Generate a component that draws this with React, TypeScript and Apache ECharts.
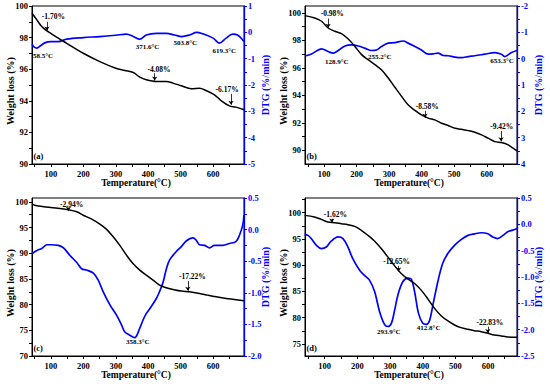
import React, { useEffect, useRef } from "react";
import * as echarts from "echarts";

const FONT = "'Liberation Serif', 'Times New Roman', serif";
const BLUE = "#0000ff";

// ---- shared temperature axis ----
const xTicks = [50, 100, 150, 200, 250, 300, 350, 400, 450, 500, 550, 600, 650];
const xLabels = [100, 200, 300, 400, 500, 600];

// ---- panel (a) ----
const tempA_w = [42, 57, 72, 88, 100, 123, 149, 200, 251, 300, 328, 354, 374, 394, 425, 456, 476, 502, 533, 558, 578, 604, 624, 650, 670, 695];
const weightA = [99.54, 99.12, 98.7, 98.42, 98.27, 97.96, 97.64, 97.01, 96.48, 96.06, 95.92, 95.79, 95.5, 95.33, 95.22, 95.22, 95.12, 94.95, 94.76, 94.8, 94.65, 94.38, 94.02, 93.68, 93.6, 93.43];
const tempA_d = [42, 47, 57, 67, 83, 100, 123, 149, 200, 251, 300, 333, 354, 374, 394, 425, 456, 481, 503, 528, 549, 569, 600, 619, 640, 660, 675, 695];
const dtgA = [-0.45, -0.54, -0.6, -0.52, -0.39, -0.35, -0.35, -0.26, -0.2, -0.16, -0.11, -0.07, -0.16, -0.26, -0.1, -0.04, -0.04, -0.1, -0.16, -0.1, 0.0, -0.06, -0.22, -0.41, -0.22, -0.07, -0.1, -0.35];
const leftLabelsA = [90, 92, 94, 96, 98, 100];
const leftTicksA = [90, 91, 92, 93, 94, 95, 96, 97, 98, 99, 100];
const rightLabelsA = [-5, -4, -3, -2, -1, 0, 1];
const rightTicksA = [-5, -4.5, -4, -3.5, -3, -2.5, -2, -1.5, -1, -0.5, 0, 0.5, 1];
const lossNotesA = [
  { text: "-1.70%", lx: 108, ly: 99.33, ax: 88, top: 99.0, tip: 98.45 },
  { text: "-4.08%", lx: 433, ly: 96.0, ax: 420, top: 95.75, tip: 95.28 },
  { text: "-6.17%", lx: 643, ly: 94.69, ax: 655, top: 94.44, tip: 93.75 },
];
const peakNotesA = [
  { text: "58.5°C", lx: 76, ly: -0.88 },
  { text: "371.6°C", lx: 398, ly: -0.54 },
  { text: "503.8°C", lx: 514, ly: -0.41 },
  { text: "619.3°C", lx: 634, ly: -0.69 },
];

// ---- panel (b) ----
const tempB_w = [41, 71, 92, 112, 133, 153, 174, 194, 215, 235, 256, 276, 297, 317, 338, 358, 379, 399, 420, 440, 461, 481, 502, 522, 543, 563, 584, 604, 625, 645, 666, 681, 693];
const weightB = [99.8, 99.63, 99.39, 98.9, 98.66, 98.49, 98.1, 97.57, 96.96, 96.59, 96.23, 95.86, 95.26, 94.6, 93.92, 93.31, 92.9, 92.58, 92.34, 92.21, 91.97, 91.8, 91.6, 91.53, 91.43, 91.31, 91.12, 90.88, 90.63, 90.56, 90.39, 90.15, 89.95];
const tempB_d = [41, 61, 92, 112, 128, 143, 164, 184, 205, 225, 246, 261, 276, 297, 317, 343, 358, 379, 399, 420, 435, 450, 466, 481, 502, 522, 543, 563, 594, 625, 645, 655, 676, 693];
const dtgB = [-0.1, -0.18, -0.37, -0.27, -0.21, -0.31, -0.48, -0.52, -0.48, -0.4, -0.31, -0.33, -0.46, -0.59, -0.61, -0.67, -0.59, -0.46, -0.33, -0.17, -0.18, -0.21, -0.12, -0.11, -0.06, -0.04, -0.08, -0.11, -0.17, -0.23, -0.17, -0.08, -0.23, -0.31];
const leftLabelsB = [90, 92, 94, 96, 98, 100];
const leftTicksB = [90, 91, 92, 93, 94, 95, 96, 97, 98, 99, 100];
const rightLabelsB = [-2, -1, 0, 1, 2, 3, 4];
const rightTicksB = [-2, -1.5, -1, -0.5, 0, 0.5, 1, 1.5, 2, 2.5, 3, 3.5, 4];
const lossNotesB = [
  { text: "-0.98%", lx: 125, ly: 99.93, ax: 112, top: 99.59, tip: 98.92 },
  { text: "-8.58%", lx: 417, ly: 93.19, ax: 410, top: 92.87, tip: 92.36 },
  { text: "-9.42%", lx: 646, ly: 91.73, ax: 644, top: 91.41, tip: 90.65 },
];
const peakNotesB = [
  { text: "128.9°C", lx: 139, ly: 0.11 },
  { text: "255.2°C", lx: 271, ly: -0.08 },
  { text: "653.3°C", lx: 647, ly: 0.07 },
];

// ---- panel (c) ----
const tempC_w = [42, 57, 100, 149, 180, 200, 226, 251, 271, 292, 312, 333, 353, 374, 394, 415, 435, 456, 476, 502, 527, 558, 583, 609, 640, 665, 695];
const weightC = [99.55, 99.22, 98.9, 98.51, 98.06, 97.4, 96.63, 95.66, 94.69, 93.2, 91.57, 89.63, 88.0, 86.71, 85.74, 84.77, 83.8, 83.28, 82.96, 82.63, 82.5, 82.18, 81.85, 81.53, 81.2, 81.01, 80.75];
const tempC_d = [42, 57, 72, 88, 100, 123, 139, 159, 180, 195, 210, 231, 246, 261, 282, 302, 318, 328, 343, 358, 374, 384, 394, 409, 425, 435, 446, 456, 466, 486, 502, 517, 538, 548, 558, 574, 589, 604, 630, 650, 670, 681, 691, 695];
const dtgC = [-0.38, -0.33, -0.3, -0.24, -0.24, -0.25, -0.29, -0.41, -0.52, -0.62, -0.64, -0.69, -0.8, -0.98, -1.19, -1.35, -1.51, -1.62, -1.67, -1.71, -1.56, -1.43, -1.33, -1.22, -1.09, -0.98, -0.83, -0.62, -0.48, -0.35, -0.27, -0.18, -0.13, -0.17, -0.24, -0.25, -0.29, -0.25, -0.25, -0.22, -0.19, -0.09, 0.07, 0.23];
const leftLabelsC = [70, 75, 80, 85, 90, 95, 100];
const leftTicksC = [70, 72.5, 75, 77.5, 80, 82.5, 85, 87.5, 90, 92.5, 95, 97.5, 100];
const rightLabelsC = [-2.0, -1.5, -1.0, -0.5, 0.0, 0.5];
const rightTicksC = [-2, -1.75, -1.5, -1.25, -1, -0.75, -0.5, -0.25, 0, 0.25, 0.5];
const lossNotesC = [
  { text: "-2.94%", lx: 164, ly: 99.48, ax: 154, top: 98.85, tip: 98.25 },
  { text: "-17.22%", lx: 536, ly: 85.42, ax: 522, top: 84.58, tip: 82.7 },
];
const peakNotesC = [{ text: "358.3°C", lx: 368, ly: -1.78 }];

// ---- panel (d) ----
const tempD_w = [39, 69, 90, 110, 131, 151, 171, 192, 212, 232, 253, 273, 293, 314, 334, 355, 375, 395, 416, 436, 456, 477, 497, 517, 538, 558, 579, 599, 619, 640, 660, 688];
const weightD = [99.49, 99.18, 98.73, 98.23, 98.1, 97.91, 97.72, 97.4, 96.65, 95.7, 94.56, 93.16, 91.58, 89.87, 88.42, 87.34, 86.52, 85.25, 83.54, 81.77, 80.38, 79.37, 78.61, 78.1, 77.78, 77.53, 77.34, 77.03, 76.71, 76.52, 76.33, 76.27];
const tempD_d = [39, 49, 59, 75, 90, 105, 120, 141, 156, 171, 186, 207, 222, 237, 253, 268, 283, 293, 304, 314, 324, 339, 355, 365, 375, 387, 400, 411, 421, 431, 446, 461, 477, 497, 517, 538, 558, 579, 599, 614, 629, 645, 660, 675, 688];
const dtgD = [-0.19, -0.21, -0.27, -0.4, -0.46, -0.43, -0.32, -0.24, -0.27, -0.43, -0.65, -0.87, -0.97, -1.06, -1.28, -1.66, -1.9, -1.94, -1.88, -1.63, -1.34, -1.09, -1.02, -1.04, -1.28, -1.69, -1.88, -1.9, -1.82, -1.53, -1.09, -0.74, -0.55, -0.4, -0.29, -0.21, -0.18, -0.16, -0.18, -0.24, -0.27, -0.21, -0.14, -0.11, -0.08];
const leftLabelsD = [75, 80, 85, 90, 95, 100];
const leftTicksD = [75, 77.5, 80, 82.5, 85, 87.5, 90, 92.5, 95, 97.5, 100, 102.5];
const rightLabelsD = [-2.5, -2.0, -1.5, -1.0, -0.5, 0.0, 0.5];
const rightTicksD = [-2.5, -2.25, -2, -1.75, -1.5, -1.25, -1, -0.75, -0.5, -0.25, 0, 0.25, 0.5];
const lossNotesD = [
  { text: "-1.62%", lx: 133, ly: 99.62, ax: 122, top: 98.86, tip: 98.15 },
  { text: "-12.65%", lx: 320, ly: 90.63, ax: 326, top: 89.87, tip: 88.8 },
  { text: "-22.83%", lx: 605, ly: 79.05, ax: 599, top: 78.29, tip: 77.1 },
];
const peakNotesD = [
  { text: "293.9°C", lx: 296, ly: -2.05 },
  { text: "412.8°C", lx: 418, ly: -1.96 },
];

const zip = (xs: number[], ys: number[]) => xs.map((x, i) => [x, ys[i]]);

const panels = [
  { box: { left: 32, top: 6, width: 212, height: 158 }, xMin: 42, xMax: 695, wMin: 90, wMax: 100, wLabels: leftLabelsA, wTicks: leftTicksA, dMin: -5, dMax: 1, dInv: false, dLabels: rightLabelsA, dTicks: rightTicksA, digits: 0, tw: tempA_w, w: weightA, td: tempA_d, d: dtgA, lossNotes: lossNotesA, peakNotes: peakNotesA, letter: "(a)" },
  { box: { left: 305, top: 6, width: 212, height: 158 }, xMin: 41, xMax: 693, wMin: 89, wMax: 100.5, wLabels: leftLabelsB, wTicks: leftTicksB, dMin: -2, dMax: 4, dInv: true, dLabels: rightLabelsB, dTicks: rightTicksB, digits: 0, tw: tempB_w, w: weightB, td: tempB_d, d: dtgB, lossNotes: lossNotesB, peakNotes: peakNotesB, letter: "(b)" },
  { box: { left: 32, top: 198, width: 212, height: 158 }, xMin: 42, xMax: 695, wMin: 70, wMax: 100.75, wLabels: leftLabelsC, wTicks: leftTicksC, dMin: -2, dMax: 0.5, dInv: false, dLabels: rightLabelsC, dTicks: rightTicksC, digits: 1, tw: tempC_w, w: weightC, td: tempC_d, d: dtgC, lossNotes: lossNotesC, peakNotes: peakNotesC, letter: "(c)" },
  { box: { left: 305, top: 198, width: 212, height: 158 }, xMin: 40, xMax: 688, wMin: 72.7, wMax: 102.8, wLabels: leftLabelsD, wTicks: leftTicksD, dMin: -2.5, dMax: 0.5, dInv: false, dLabels: rightLabelsD, dTicks: rightTicksD, digits: 1, tw: tempD_w, w: weightD, td: tempD_d, d: dtgD, lossNotes: lossNotesD, peakNotes: peakNotesD, letter: "(d)" },
];

const tickFont = { fontFamily: FONT, fontSize: 8.5, fontWeight: "bold" as const };
const lossFont = { fontFamily: FONT, fontSize: 7.5, fontWeight: "bold" as const, color: "#000" };
const peakFont = { fontFamily: FONT, fontSize: 7, fontWeight: "bold" as const, color: "#000" };

function buildOption() {
  const grid = panels.map((p) => ({
    left: p.box.left, top: p.box.top, width: p.box.width, height: p.box.height,
    show: true, borderColor: "#000", borderWidth: 1, backgroundColor: "transparent",
    containLabel: false, outerBoundsMode: "none",
  }));
  const xAxis = panels.map((p, i) => ({
    gridIndex: i, type: "value", min: p.xMin, max: p.xMax,
    axisLine: { show: true, onZero: false, lineStyle: { color: "#000", width: 1 } },
    axisTick: { show: true, length: 3, customValues: xTicks, lineStyle: { color: "#000" } },
    axisLabel: { customValues: xLabels, color: "#000", margin: 5, ...tickFont },
    splitLine: { show: false },
  }));
  const yAxis: any[] = [];
  panels.forEach((p, i) => {
    yAxis.push({
      gridIndex: i, type: "value", position: "left", min: p.wMin, max: p.wMax,
      axisLine: { show: true, onZero: false, lineStyle: { color: "#000", width: 1 } },
      axisTick: { show: true, length: 3, customValues: p.wTicks, lineStyle: { color: "#000" } },
      axisLabel: { customValues: p.wLabels, color: "#000", margin: 4, ...tickFont },
      splitLine: { show: false },
    });
    yAxis.push({
      gridIndex: i, type: "value", position: "right", min: p.dMin, max: p.dMax, inverse: p.dInv,
      axisLine: { show: true, onZero: false, lineStyle: { color: BLUE, width: 1.3 } },
      axisTick: { show: true, length: 3, customValues: p.dTicks, lineStyle: { color: BLUE } },
      axisLabel: {
        customValues: p.dLabels, color: BLUE, margin: 4, ...tickFont,
        formatter: (v: number) => v.toFixed(p.digits),
      },
      splitLine: { show: false },
    });
  });
  const series: any[] = [];
  panels.forEach((p, i) => {
    series.push({
      type: "line", xAxisIndex: i, yAxisIndex: 2 * i, data: zip(p.tw, p.w),
      showSymbol: false, smooth: 0.35, lineStyle: { color: "#000", width: 1.5 }, itemStyle: { color: "#000" },
      silent: true, z: 3,
      markLine: {
        silent: true, symbol: ["none", "arrow"], symbolSize: 4, animation: false,
        label: { show: false }, lineStyle: { color: "#000", width: 0.8, type: "solid" },
        emphasis: { disabled: true },
        data: p.lossNotes.map((n) => [{ coord: [n.ax, n.top] }, { coord: [n.ax, n.tip] }]),
      },
      markPoint: {
        silent: true, symbol: "circle", symbolSize: 1, itemStyle: { color: "rgba(0,0,0,0)" },
        label: { show: true, position: "inside", formatter: "{b}", ...lossFont },
        data: p.lossNotes.map((n) => ({ name: n.text, coord: [n.lx, n.ly] })),
      },
    });
    series.push({
      type: "line", xAxisIndex: i, yAxisIndex: 2 * i + 1, data: zip(p.td, p.d),
      showSymbol: false, smooth: 0.35, lineStyle: { color: BLUE, width: 1.7 }, itemStyle: { color: BLUE },
      silent: true, z: 2,
      markPoint: {
        silent: true, symbol: "circle", symbolSize: 1, itemStyle: { color: "rgba(0,0,0,0)" },
        label: { show: true, position: "inside", formatter: "{b}", ...peakFont },
        data: p.peakNotes.map((n) => ({ name: n.text, coord: [n.lx, n.ly] })),
      },
    });
  });

  const graphic: any[] = [];
  panels.forEach((p) => {
    const cx = p.box.left + p.box.width / 2;
    const cy = p.box.top + p.box.height / 2;
    graphic.push({
      type: "text", x: p.box.left - 22, y: cy + 6, rotation: Math.PI / 2,
      style: { text: "Weight loss (%)", fill: "#000", font: `bold 10px ${FONT}`, textAlign: "center", textVerticalAlign: "middle" },
    });
    graphic.push({
      type: "text", x: p.box.left + p.box.width + 21, y: cy, rotation: Math.PI / 2,
      style: { text: "DTG (%/min)", fill: BLUE, font: `bold 10px ${FONT}`, textAlign: "center", textVerticalAlign: "middle" },
    });
    graphic.push({
      type: "text", x: cx - 2, y: p.box.top + p.box.height + 19,
      style: { text: "Temperature(°C)", fill: "#000", font: `bold 9.5px ${FONT}`, textAlign: "center", textVerticalAlign: "middle" },
    });
    graphic.push({
      type: "text", x: p.box.left + 1.5, y: p.box.top + p.box.height - 4,
      style: { text: p.letter, fill: "#000", font: `bold 8.5px ${FONT}`, textAlign: "left", textVerticalAlign: "bottom" },
    });
  });

  return { animation: false, backgroundColor: "#fff", grid, xAxis, yAxis, series, graphic };
}

export default function App() {
  const ref = useRef<HTMLDivElement>(null);
  useEffect(() => {
    if (!ref.current) return;
    const chart = echarts.init(ref.current, undefined, { renderer: "svg" });
    chart.setOption(buildOption() as any);
    return () => chart.dispose();
  }, []);
  return <div ref={ref} style={{ position: "fixed", left: 0, top: 0, width: 550, height: 384 }} />;
}
